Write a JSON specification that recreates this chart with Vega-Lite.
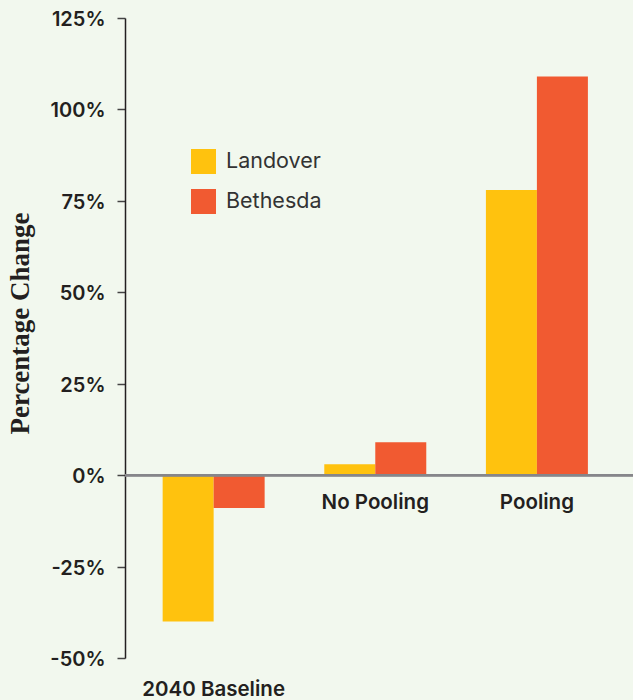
{
  "$schema": "https://vega.github.io/schema/vega-lite/v6.json",
  "width": 508,
  "height": 640,
  "autosize": {"type": "none"},
  "padding": {"left": 125, "top": 18, "right": 0, "bottom": 42},
  "background": "#f2f8ee",
  "config": {
    "view": {"stroke": null},
    "font": "Inter"
  },
  "data": {
    "values": [
      {"group": "2040 Baseline", "city": "Landover", "change": -40},
      {"group": "2040 Baseline", "city": "Bethesda", "change": -9},
      {"group": "No Pooling", "city": "Landover", "change": 3},
      {"group": "No Pooling", "city": "Bethesda", "change": 9},
      {"group": "Pooling", "city": "Landover", "change": 78},
      {"group": "Pooling", "city": "Bethesda", "change": 109}
    ]
  },
  "encoding": {
    "x": {
      "field": "group",
      "type": "nominal",
      "sort": ["2040 Baseline", "No Pooling", "Pooling"],
      "scale": {"paddingInner": 0.369, "paddingOuter": 0.256, "align": 0.455},
      "axis": null
    }
  },
  "layer": [
    {
      "mark": {"type": "bar"},
      "encoding": {
        "xOffset": {
          "field": "city",
          "type": "nominal",
          "sort": ["Landover", "Bethesda"],
          "scale": {"paddingInner": 0, "paddingOuter": 0}
        },
        "y": {
          "field": "change",
          "type": "quantitative",
          "scale": {"domain": [-50, 125], "nice": false, "zero": false},
          "axis": {
            "values": [-50, -25, 0, 25, 50, 75, 100, 125],
            "labelExpr": "datum.value + '%'",
            "grid": false,
            "domainColor": "#231f20",
            "domainWidth": 1.5,
            "tickColor": "#444444",
            "tickWidth": 1.5,
            "tickSize": 8,
            "labelPadding": 12,
            "labelOffset": 1.5,
            "labelFont": "Inter",
            "labelFontWeight": 600,
            "labelFontSize": 20,
            "labelColor": "#231f20",
            "title": "Percentage Change",
            "titleFont": "Liberation Serif",
            "titleFontWeight": "bold",
            "titleFontSize": 27,
            "titleColor": "#231f20",
            "titleAngle": -90,
            "titleAlign": "center",
            "titleBaseline": "alphabetic",
            "titleX": -97,
            "titleY": 305
          }
        },
        "color": {
          "field": "city",
          "type": "nominal",
          "sort": ["Landover", "Bethesda"],
          "scale": {"domain": ["Landover", "Bethesda"], "range": ["#ffc20e", "#f15a31"]},
          "legend": {
            "title": null,
            "orient": "none",
            "legendX": 66,
            "legendY": 131,
            "padding": 0,
            "symbolType": "square",
            "symbolSize": 625,
            "symbolStrokeWidth": 0,
            "symbolOpacity": 1,
            "rowPadding": 15,
            "labelOffset": 10,
            "labelFont": "Inter",
            "labelFontSize": 21.5,
            "labelFontWeight": 400,
            "labelColor": "#333333"
          }
        }
      }
    },
    {
      "mark": {"type": "rule", "color": "#86868a", "strokeWidth": 2},
      "encoding": {"y": {"datum": 0}, "x": null}
    },
    {
      "transform": [
        {"aggregate": [{"op": "min", "field": "change", "as": "low"}], "groupby": ["group"]},
        {"filter": "datum.low >= 0"}
      ],
      "mark": {"type": "text", "dy": 28, "font": "Inter", "fontWeight": 600, "fontSize": 20.5, "color": "#231f20", "baseline": "middle"},
      "encoding": {"y": {"datum": 0}, "text": {"field": "group"}}
    },
    {
      "transform": [
        {"aggregate": [{"op": "min", "field": "change", "as": "low"}], "groupby": ["group"]},
        {"filter": "datum.low < 0"}
      ],
      "mark": {"type": "text", "dy": 38, "font": "Inter", "fontWeight": 600, "fontSize": 20.5, "color": "#231f20", "baseline": "alphabetic", "clip": false},
      "encoding": {"y": {"datum": -50}, "text": {"field": "group"}}
    }
  ]
}
